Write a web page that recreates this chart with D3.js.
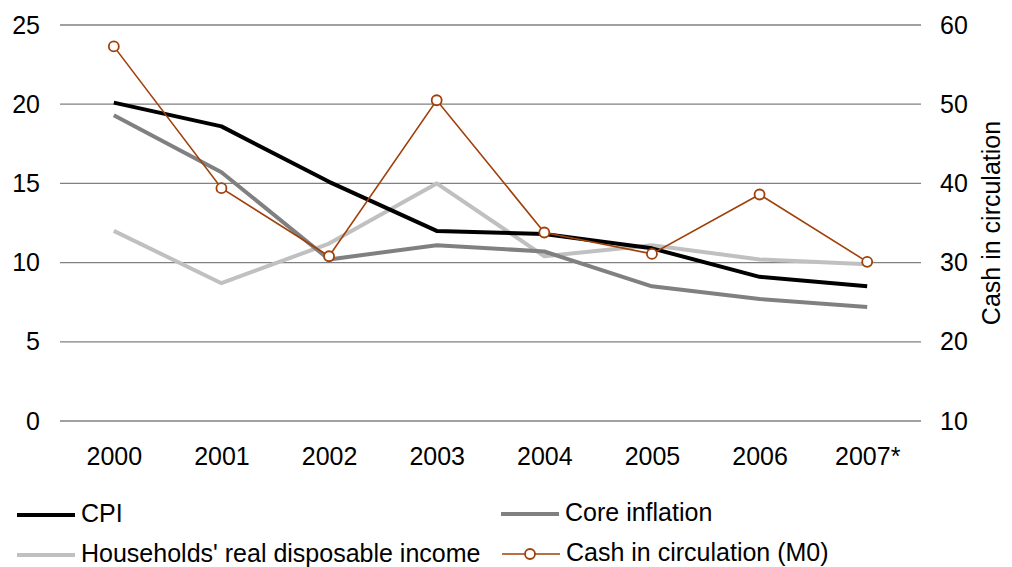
<!DOCTYPE html>
<html>
<head>
<meta charset="utf-8">
<script src="https://cdn.jsdelivr.net/npm/d3@7"></script>
<style>
  html, body { margin: 0; padding: 0; background: #fff; }
  svg { display: block; font-family: "Liberation Sans", Arial, sans-serif; }
</style>
</head>
<body>
<svg id="chart" width="1012" height="567"></svg>
<script>
const years = ["2000", "2001", "2002", "2003", "2004", "2005", "2006", "2007*"];
const cpi = [20.1, 18.6, 15.1, 12.0, 11.8, 10.9, 9.1, 8.5];
const coreInflation = [19.3, 15.7, 10.2, 11.1, 10.7, 8.5, 7.7, 7.2];
const householdsIncome = [12.0, 8.7, 11.2, 15.0, 10.4, 11.1, 10.2, 9.9];
const cashM0 = [57.3, 39.4, 30.8, 50.5, 33.8, 31.1, 38.6, 30.1];
const leftTicks = [0, 5, 10, 15, 20, 25];
const rightTicks = [10, 20, 30, 40, 50, 60];
const rightTitle = "Cash in circulation";

const FS = 25;
const svg = d3.select("#chart");
const pL = 60, pR = 921, pT = 25, pB = 421;

const x = d3.scalePoint().domain(years).range([pL, pR]).padding(0.5);
const yL = d3.scaleLinear().domain([0, 25]).range([pB, pT]);
const yR = d3.scaleLinear().domain([10, 60]).range([pB, pT]);

// gridlines
svg.append("g").selectAll("line").data(leftTicks).join("line")
  .attr("x1", pL).attr("x2", pR)
  .attr("y1", d => yL(d)).attr("y2", d => yL(d))
  .attr("stroke", "#808080").attr("stroke-width", 1.3);

// left axis labels
const axL = svg.append("g").attr("transform", `translate(${pL - 20},0)`)
  .call(d3.axisLeft(yL).tickValues(leftTicks).tickSize(0).tickPadding(0));
axL.select(".domain").remove();
axL.selectAll("text").attr("font-size", FS).attr("fill", "#000")
  .attr("font-family", "Liberation Sans, Arial, sans-serif");

// right axis labels
const axR = svg.append("g").attr("transform", `translate(${pR + 19},0)`)
  .call(d3.axisRight(yR).tickValues(rightTicks).tickSize(0).tickPadding(0));
axR.select(".domain").remove();
axR.selectAll("text").attr("font-size", FS).attr("fill", "#000")
  .attr("font-family", "Liberation Sans, Arial, sans-serif");

// x axis labels
const axX = svg.append("g").attr("transform", `translate(0,${pB + 26})`)
  .call(d3.axisBottom(x).tickSize(0).tickPadding(0));
axX.select(".domain").remove();
axX.selectAll("text").attr("font-size", FS).attr("fill", "#000")
  .attr("font-family", "Liberation Sans, Arial, sans-serif");

// right title
svg.append("text")
  .attr("transform", `translate(1000,${(pT + pB) / 2}) rotate(-90)`)
  .attr("text-anchor", "middle")
  .attr("font-size", FS)
  .attr("fill", "#000")
  .text(rightTitle);

const lineL = d3.line().x((d, i) => x(years[i])).y(d => yL(d));
const lineR = d3.line().x((d, i) => x(years[i])).y(d => yR(d));

const series = [
  { name: "Households' real disposable income", data: householdsIncome, color: "#c0c0c0", w: 4 },
  { name: "Core inflation", data: coreInflation, color: "#808080", w: 4 },
  { name: "CPI", data: cpi, color: "#000000", w: 4 }
];
series.forEach(s => {
  svg.append("path").datum(s.data)
    .attr("d", lineL).attr("fill", "none")
    .attr("stroke", s.color).attr("stroke-width", s.w)
    .attr("stroke-linejoin", "round");
});

const cashColor = "#a0400a";
svg.append("path").datum(cashM0)
  .attr("d", lineR).attr("fill", "none")
  .attr("stroke", cashColor).attr("stroke-width", 1.6);
svg.append("g").selectAll("circle").data(cashM0).join("circle")
  .attr("cx", (d, i) => x(years[i])).attr("cy", d => yR(d))
  .attr("r", 5).attr("fill", "#fff")
  .attr("stroke", cashColor).attr("stroke-width", 1.8);

// legend
const legend = [
  { name: "CPI", color: "#000000", w: 4, x: 17, y: 515, marker: false },
  { name: "Core inflation", color: "#808080", w: 4, x: 501, y: 514, marker: false },
  { name: "Households' real disposable income", color: "#c0c0c0", w: 4, x: 17, y: 555, marker: false },
  { name: "Cash in circulation (M0)", color: cashColor, w: 1.6, x: 502, y: 554, marker: true }
];
const lg = svg.append("g").selectAll("g").data(legend).join("g")
  .attr("transform", d => `translate(${d.x},${d.y})`);
lg.append("line").attr("x1", 0).attr("x2", 58).attr("y1", 0).attr("y2", 0)
  .attr("stroke", d => d.color).attr("stroke-width", d => d.w);
lg.filter(d => d.marker).append("circle")
  .attr("cx", 28).attr("cy", 0).attr("r", 5)
  .attr("fill", "#fff").attr("stroke", d => d.color).attr("stroke-width", 1.8);
lg.append("text").attr("x", 64).attr("y", 6.5)
  .attr("font-size", FS).attr("fill", "#000").text(d => d.name);
</script>
</body>
</html>
